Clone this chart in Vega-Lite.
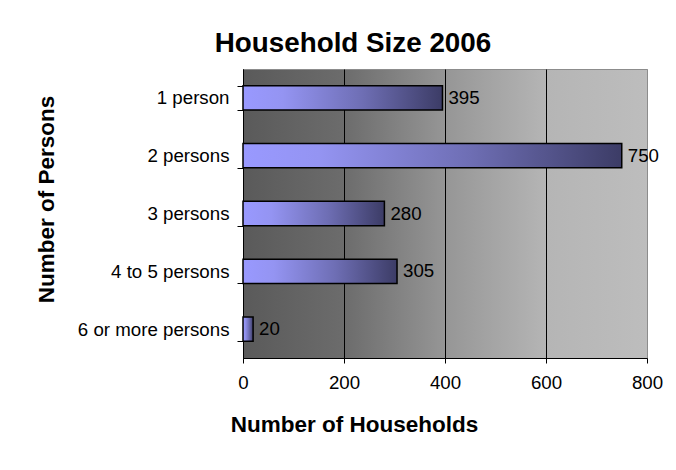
{
  "$schema": "https://vega.github.io/schema/vega-lite/v6.json",
  "autosize": {"type": "none"},
  "padding": {"left": 243, "top": 69, "right": 29, "bottom": 112},
  "width": 404,
  "height": 289,
  "background": "white",
  "title": {
    "text": "Household Size 2006",
    "anchor": "middle",
    "frame": "group",
    "dx": -92,
    "dy": 37,
    "offset": 17,
    "baseline": "alphabetic",
    "font": "Liberation Sans",
    "fontSize": 27.8,
    "fontWeight": "bold",
    "color": "black"
  },
  "config": {
    "view": {
      "stroke": "#8c8c8c",
      "strokeWidth": 1,
      "fill": {
        "gradient": "linear",
        "x1": 0, "y1": 0, "x2": 1, "y2": 0,
        "stops": [
          {"offset": 0, "color": "#5a5a5a"},
          {"offset": 0.25, "color": "#6c6c6c"},
          {"offset": 0.5, "color": "#969696"},
          {"offset": 0.75, "color": "#b5b5b5"},
          {"offset": 1, "color": "#bdbdbd"}
        ]
      }
    },
    "font": "Liberation Sans",
    "axis": {
      "labelFont": "Liberation Sans",
      "titleFont": "Liberation Sans",
      "labelColor": "black",
      "titleColor": "black",
      "domainColor": "black",
      "tickColor": "black"
    }
  },
  "data": {
    "values": [
      {"size": "1 person", "households": 395},
      {"size": "2 persons", "households": 750},
      {"size": "3 persons", "households": 280},
      {"size": "4 to 5 persons", "households": 305},
      {"size": "6 or more persons", "households": 20}
    ]
  },
  "encoding": {
    "y": {
      "field": "size",
      "type": "nominal",
      "sort": null,
      "scale": {"paddingInner": 0.58, "paddingOuter": 0.29},
      "axis": {
        "title": "Number of Persons",
        "titleFontSize": 22.5,
        "titleFontWeight": "bold",
        "titleX": -190,
        "titleY": 130,
        "titleAlign": "center",
        "titleBaseline": "alphabetic",
        "titleAngle": -90,
        "labelFontSize": 18.7,
        "labelPadding": 8,
        "tickBand": "extent",
        "tickSize": 6,
        "domainWidth": 1,
        "grid": false
      }
    },
    "x": {
      "field": "households",
      "type": "quantitative",
      "scale": {"domain": [0, 800], "nice": false},
      "axis": {
        "title": "Number of Households",
        "titleFontSize": 22.5,
        "titleFontWeight": "bold",
        "titleX": 111,
        "titleY": 73,
        "titleAlign": "center",
        "titleBaseline": "alphabetic",
        "values": [0, 200, 400, 600, 800],
        "labelFontSize": 18.7,
        "labelPadding": 10,
        "tickSize": 5,
        "grid": true,
        "gridColor": {"condition": {"test": "datum.value === 800", "value": "#8c8c8c"}, "value": "black"},
        "gridOpacity": 1,
        "gridWidth": 1,
        "labelFlush": false
      }
    }
  },
  "layer": [
    {
      "mark": {
        "type": "bar",
        "stroke": "black",
        "strokeWidth": 1.5,
        "fill": {
          "gradient": "linear",
          "x1": 0, "y1": 0, "x2": 1, "y2": 0,
          "stops": [
            {"offset": 0, "color": "#9999ff"},
            {"offset": 0.2, "color": "#9494f2"},
            {"offset": 0.6, "color": "#6e6eb4"},
            {"offset": 1, "color": "#3c3c66"}
          ]
        }
      }
    },
    {
      "mark": {
        "type": "text",
        "align": "left",
        "baseline": "middle",
        "dx": 6,
        "fontSize": 18.7,
        "font": "Liberation Sans",
        "color": "black"
      },
      "encoding": {
        "text": {"field": "households", "type": "quantitative"}
      }
    }
  ]
}
